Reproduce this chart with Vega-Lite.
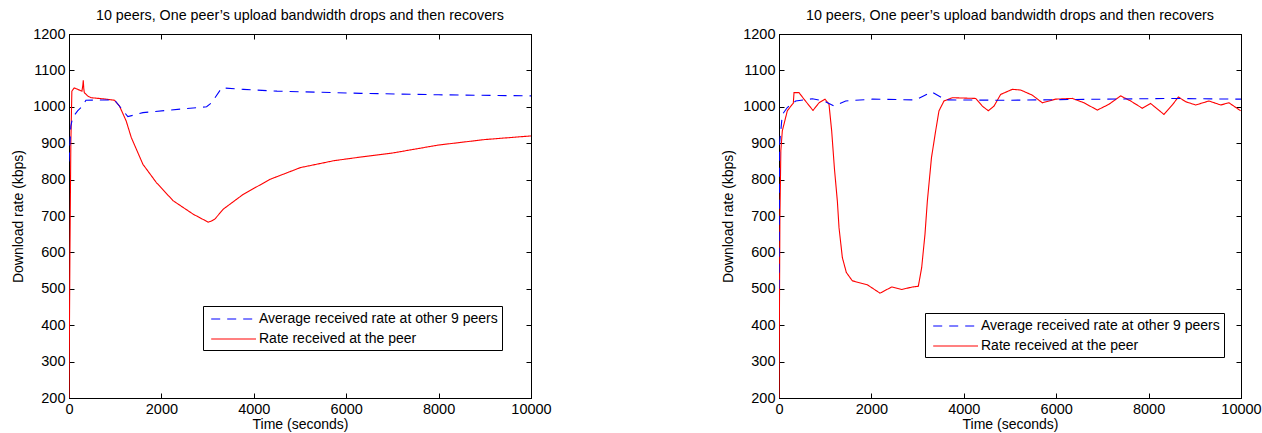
{
  "$schema": "https://vega.github.io/schema/vega-lite/v6.json",
  "background": "white",
  "padding": {"left": 11, "top": 8, "right": 5, "bottom": 2},
  "spacing": 169,
  "resolve": {
    "scale": {"color": "independent", "strokeDash": "independent"},
    "legend": {"color": "independent", "strokeDash": "independent"}
  },
  "config": {
    "font": "Liberation Sans",
    "view": {"stroke": "black", "strokeWidth": 1},
    "title": {"fontSize": 14.3, "fontWeight": "normal", "color": "black", "offset": 3, "font": "Liberation Sans"},
    "axis": {
      "grid": false,
      "domainColor": "black",
      "tickColor": "black",
      "tickSize": -5,
      "labelPadding": 9,
      "labelFlush": false,
      "labelOverlap": false,
      "labelFontSize": 14.5,
      "labelColor": "black",
      "labelFont": "Liberation Sans",
      "titleFontSize": 14,
      "titleFontWeight": "normal",
      "titleColor": "black",
      "titleFont": "Liberation Sans"
    },
    "legend": {
      "orient": "none",
      "strokeColor": "black",
      "fillColor": "white",
      "padding": 4,
      "symbolType": "M-0.6,0H5",
      "symbolSize": 256,
      "symbolStrokeWidth": 1.2,
      "labelFontSize": 14,
      "labelFont": "Liberation Sans",
      "labelColor": "black",
      "labelLimit": 400,
      "rowPadding": 4,
      "labelOffset": 34,
      "cornerRadius": 0
    }
  },
  "datasets": {
    "left": [
      {"t": 0, "v": 200, "s": "Rate received at the peer"},
      {"t": 20, "v": 600, "s": "Rate received at the peer"},
      {"t": 40, "v": 900, "s": "Rate received at the peer"},
      {"t": 62, "v": 1043, "s": "Rate received at the peer"},
      {"t": 113, "v": 1052, "s": "Rate received at the peer"},
      {"t": 186, "v": 1048, "s": "Rate received at the peer"},
      {"t": 280, "v": 1043, "s": "Rate received at the peer"},
      {"t": 300, "v": 1060, "s": "Rate received at the peer"},
      {"t": 309, "v": 1073, "s": "Rate received at the peer"},
      {"t": 320, "v": 1050, "s": "Rate received at the peer"},
      {"t": 331, "v": 1039, "s": "Rate received at the peer"},
      {"t": 403, "v": 1030, "s": "Rate received at the peer"},
      {"t": 476, "v": 1025, "s": "Rate received at the peer"},
      {"t": 730, "v": 1022, "s": "Rate received at the peer"},
      {"t": 984, "v": 1018, "s": "Rate received at the peer"},
      {"t": 1093, "v": 1002, "s": "Rate received at the peer"},
      {"t": 1238, "v": 961, "s": "Rate received at the peer"},
      {"t": 1347, "v": 916, "s": "Rate received at the peer"},
      {"t": 1600, "v": 842, "s": "Rate received at the peer"},
      {"t": 1890, "v": 792, "s": "Rate received at the peer"},
      {"t": 2253, "v": 742, "s": "Rate received at the peer"},
      {"t": 2688, "v": 705, "s": "Rate received at the peer"},
      {"t": 3015, "v": 683, "s": "Rate received at the peer"},
      {"t": 3080, "v": 686, "s": "Rate received at the peer"},
      {"t": 3160, "v": 692, "s": "Rate received at the peer"},
      {"t": 3341, "v": 719, "s": "Rate received at the peer"},
      {"t": 3777, "v": 760, "s": "Rate received at the peer"},
      {"t": 4357, "v": 801, "s": "Rate received at the peer"},
      {"t": 5010, "v": 833, "s": "Rate received at the peer"},
      {"t": 5736, "v": 852, "s": "Rate received at the peer"},
      {"t": 6315, "v": 862, "s": "Rate received at the peer"},
      {"t": 7000, "v": 873, "s": "Rate received at the peer"},
      {"t": 8000, "v": 895, "s": "Rate received at the peer"},
      {"t": 9000, "v": 910, "s": "Rate received at the peer"},
      {"t": 10000, "v": 920, "s": "Rate received at the peer"},
      {"t": 0, "v": 850, "s": "Average received rate at other 9 peers"},
      {"t": 40, "v": 947, "s": "Average received rate at other 9 peers"},
      {"t": 77, "v": 970, "s": "Average received rate at other 9 peers"},
      {"t": 186, "v": 989, "s": "Average received rate at other 9 peers"},
      {"t": 294, "v": 1002, "s": "Average received rate at other 9 peers"},
      {"t": 366, "v": 1018, "s": "Average received rate at other 9 peers"},
      {"t": 984, "v": 1019, "s": "Average received rate at other 9 peers"},
      {"t": 1129, "v": 996, "s": "Average received rate at other 9 peers"},
      {"t": 1274, "v": 973, "s": "Average received rate at other 9 peers"},
      {"t": 1600, "v": 984, "s": "Average received rate at other 9 peers"},
      {"t": 2180, "v": 991, "s": "Average received rate at other 9 peers"},
      {"t": 2978, "v": 1000, "s": "Average received rate at other 9 peers"},
      {"t": 3087, "v": 1011, "s": "Average received rate at other 9 peers"},
      {"t": 3305, "v": 1052, "s": "Average received rate at other 9 peers"},
      {"t": 3777, "v": 1048, "s": "Average received rate at other 9 peers"},
      {"t": 4502, "v": 1043, "s": "Average received rate at other 9 peers"},
      {"t": 6315, "v": 1037, "s": "Average received rate at other 9 peers"},
      {"t": 8000, "v": 1033, "s": "Average received rate at other 9 peers"},
      {"t": 10000, "v": 1030, "s": "Average received rate at other 9 peers"}
    ],
    "right": [
      {"t": 0, "v": 200, "s": "Rate received at the peer"},
      {"t": 20, "v": 700, "s": "Rate received at the peer"},
      {"t": 40, "v": 880, "s": "Rate received at the peer"},
      {"t": 72, "v": 934, "s": "Rate received at the peer"},
      {"t": 180, "v": 989, "s": "Rate received at the peer"},
      {"t": 289, "v": 1007, "s": "Rate received at the peer"},
      {"t": 310, "v": 1010, "s": "Rate received at the peer"},
      {"t": 325, "v": 1039, "s": "Rate received at the peer"},
      {"t": 433, "v": 1039, "s": "Rate received at the peer"},
      {"t": 541, "v": 1021, "s": "Rate received at the peer"},
      {"t": 736, "v": 990, "s": "Rate received at the peer"},
      {"t": 866, "v": 1011, "s": "Rate received at the peer"},
      {"t": 996, "v": 1021, "s": "Rate received at the peer"},
      {"t": 1082, "v": 1007, "s": "Rate received at the peer"},
      {"t": 1140, "v": 934, "s": "Rate received at the peer"},
      {"t": 1200, "v": 830, "s": "Rate received at the peer"},
      {"t": 1263, "v": 741, "s": "Rate received at the peer"},
      {"t": 1299, "v": 668, "s": "Rate received at the peer"},
      {"t": 1371, "v": 586, "s": "Rate received at the peer"},
      {"t": 1457, "v": 545, "s": "Rate received at the peer"},
      {"t": 1587, "v": 522, "s": "Rate received at the peer"},
      {"t": 1912, "v": 511, "s": "Rate received at the peer"},
      {"t": 2020, "v": 502, "s": "Rate received at the peer"},
      {"t": 2186, "v": 488, "s": "Rate received at the peer"},
      {"t": 2439, "v": 505, "s": "Rate received at the peer"},
      {"t": 2655, "v": 498, "s": "Rate received at the peer"},
      {"t": 2886, "v": 505, "s": "Rate received at the peer"},
      {"t": 3016, "v": 507, "s": "Rate received at the peer"},
      {"t": 3088, "v": 558, "s": "Rate received at the peer"},
      {"t": 3160, "v": 650, "s": "Rate received at the peer"},
      {"t": 3211, "v": 741, "s": "Rate received at the peer"},
      {"t": 3300, "v": 860, "s": "Rate received at the peer"},
      {"t": 3391, "v": 934, "s": "Rate received at the peer"},
      {"t": 3463, "v": 989, "s": "Rate received at the peer"},
      {"t": 3571, "v": 1016, "s": "Rate received at the peer"},
      {"t": 3752, "v": 1025, "s": "Rate received at the peer"},
      {"t": 4257, "v": 1023, "s": "Rate received at the peer"},
      {"t": 4401, "v": 1002, "s": "Rate received at the peer"},
      {"t": 4531, "v": 989, "s": "Rate received at the peer"},
      {"t": 4654, "v": 1002, "s": "Rate received at the peer"},
      {"t": 4798, "v": 1034, "s": "Rate received at the peer"},
      {"t": 5051, "v": 1048, "s": "Rate received at the peer"},
      {"t": 5231, "v": 1046, "s": "Rate received at the peer"},
      {"t": 5483, "v": 1032, "s": "Rate received at the peer"},
      {"t": 5700, "v": 1011, "s": "Rate received at the peer"},
      {"t": 5988, "v": 1021, "s": "Rate received at the peer"},
      {"t": 6349, "v": 1023, "s": "Rate received at the peer"},
      {"t": 6602, "v": 1011, "s": "Rate received at the peer"},
      {"t": 6890, "v": 991, "s": "Rate received at the peer"},
      {"t": 7143, "v": 1007, "s": "Rate received at the peer"},
      {"t": 7395, "v": 1030, "s": "Rate received at the peer"},
      {"t": 7612, "v": 1016, "s": "Rate received at the peer"},
      {"t": 7864, "v": 996, "s": "Rate received at the peer"},
      {"t": 8045, "v": 1009, "s": "Rate received at the peer"},
      {"t": 8333, "v": 979, "s": "Rate received at the peer"},
      {"t": 8514, "v": 1005, "s": "Rate received at the peer"},
      {"t": 8644, "v": 1027, "s": "Rate received at the peer"},
      {"t": 8802, "v": 1014, "s": "Rate received at the peer"},
      {"t": 9019, "v": 1005, "s": "Rate received at the peer"},
      {"t": 9307, "v": 1016, "s": "Rate received at the peer"},
      {"t": 9560, "v": 1005, "s": "Rate received at the peer"},
      {"t": 9740, "v": 1011, "s": "Rate received at the peer"},
      {"t": 9993, "v": 989, "s": "Rate received at the peer"},
      {"t": 0, "v": 500, "s": "Average received rate at other 9 peers"},
      {"t": 14, "v": 900, "s": "Average received rate at other 9 peers"},
      {"t": 72, "v": 979, "s": "Average received rate at other 9 peers"},
      {"t": 180, "v": 998, "s": "Average received rate at other 9 peers"},
      {"t": 361, "v": 1016, "s": "Average received rate at other 9 peers"},
      {"t": 722, "v": 1022, "s": "Average received rate at other 9 peers"},
      {"t": 974, "v": 1016, "s": "Average received rate at other 9 peers"},
      {"t": 1190, "v": 1002, "s": "Average received rate at other 9 peers"},
      {"t": 1443, "v": 1016, "s": "Average received rate at other 9 peers"},
      {"t": 2020, "v": 1021, "s": "Average received rate at other 9 peers"},
      {"t": 2958, "v": 1019, "s": "Average received rate at other 9 peers"},
      {"t": 3304, "v": 1041, "s": "Average received rate at other 9 peers"},
      {"t": 3608, "v": 1019, "s": "Average received rate at other 9 peers"},
      {"t": 4906, "v": 1018, "s": "Average received rate at other 9 peers"},
      {"t": 5628, "v": 1019, "s": "Average received rate at other 9 peers"},
      {"t": 7071, "v": 1021, "s": "Average received rate at other 9 peers"},
      {"t": 8514, "v": 1023, "s": "Average received rate at other 9 peers"},
      {"t": 10000, "v": 1021, "s": "Average received rate at other 9 peers"}
    ]
  },
  "hconcat": [
    {
      "width": 462,
      "height": 364,
      "title": "10 peers, One peer’s upload bandwidth drops and then recovers",
      "data": {"name": "left"},
      "layer": [
        {
          "mark": {"type": "line", "strokeWidth": 1.1, "clip": true},
          "encoding": {
            "x": {"field": "t", "type": "quantitative", "scale": {"domain": [0, 10000], "nice": false, "zero": false}, "axis": {"title": "Time (seconds)", "values": [0, 2000, 4000, 6000, 8000, 10000], "format": "d", "titlePadding": 2}},
            "y": {"field": "v", "type": "quantitative", "scale": {"domain": [200, 1200], "nice": false, "zero": false}, "axis": {"title": "Download rate (kbps)", "values": [200, 300, 400, 500, 600, 700, 800, 900, 1000, 1100, 1200], "format": "d", "titlePadding": 7}},
            "color": {"field": "s", "type": "nominal", "scale": {"domain": ["Average received rate at other 9 peers", "Rate received at the peer"], "range": ["#0000ff", "#ff0000"]}, "legend": {"title": null, "legendX": 134, "legendY": 272}},
            "strokeDash": {"field": "s", "type": "nominal", "scale": {"domain": ["Average received rate at other 9 peers", "Rate received at the peer"], "range": [[9, 7], [1, 0]]}, "legend": {"title": null, "legendX": 134, "legendY": 272}}
          }
        },
        {
          "mark": {"type": "line", "opacity": 0},
          "encoding": {
            "x": {"field": "t", "type": "quantitative", "scale": {"domain": [0, 10000], "nice": false, "zero": false}, "axis": {"orient": "top", "labels": false, "title": null, "values": [0, 2000, 4000, 6000, 8000, 10000]}},
            "y": {"field": "v", "type": "quantitative", "scale": {"domain": [200, 1200], "nice": false, "zero": false}, "axis": {"orient": "right", "labels": false, "title": null, "values": [200, 300, 400, 500, 600, 700, 800, 900, 1000, 1100, 1200]}}
          }
        }
      ],
      "resolve": {"axis": {"x": "independent", "y": "independent"}}
    },
    {
      "width": 462,
      "height": 364,
      "title": "10 peers, One peer’s upload bandwidth drops and then recovers",
      "data": {"name": "right"},
      "layer": [
        {
          "mark": {"type": "line", "strokeWidth": 1.1, "clip": true},
          "encoding": {
            "x": {"field": "t", "type": "quantitative", "scale": {"domain": [0, 10000], "nice": false, "zero": false}, "axis": {"title": "Time (seconds)", "values": [0, 2000, 4000, 6000, 8000, 10000], "format": "d", "titlePadding": 2}},
            "y": {"field": "v", "type": "quantitative", "scale": {"domain": [200, 1200], "nice": false, "zero": false}, "axis": {"title": "Download rate (kbps)", "values": [200, 300, 400, 500, 600, 700, 800, 900, 1000, 1100, 1200], "format": "d", "titlePadding": 7}},
            "color": {"field": "s", "type": "nominal", "scale": {"domain": ["Average received rate at other 9 peers", "Rate received at the peer"], "range": ["#0000ff", "#ff0000"]}, "legend": {"title": null, "legendX": 146, "legendY": 279}},
            "strokeDash": {"field": "s", "type": "nominal", "scale": {"domain": ["Average received rate at other 9 peers", "Rate received at the peer"], "range": [[9, 7], [1, 0]]}, "legend": {"title": null, "legendX": 146, "legendY": 279}}
          }
        },
        {
          "mark": {"type": "line", "opacity": 0},
          "encoding": {
            "x": {"field": "t", "type": "quantitative", "scale": {"domain": [0, 10000], "nice": false, "zero": false}, "axis": {"orient": "top", "labels": false, "title": null, "values": [0, 2000, 4000, 6000, 8000, 10000]}},
            "y": {"field": "v", "type": "quantitative", "scale": {"domain": [200, 1200], "nice": false, "zero": false}, "axis": {"orient": "right", "labels": false, "title": null, "values": [200, 300, 400, 500, 600, 700, 800, 900, 1000, 1100, 1200]}}
          }
        }
      ],
      "resolve": {"axis": {"x": "independent", "y": "independent"}}
    }
  ]
}
